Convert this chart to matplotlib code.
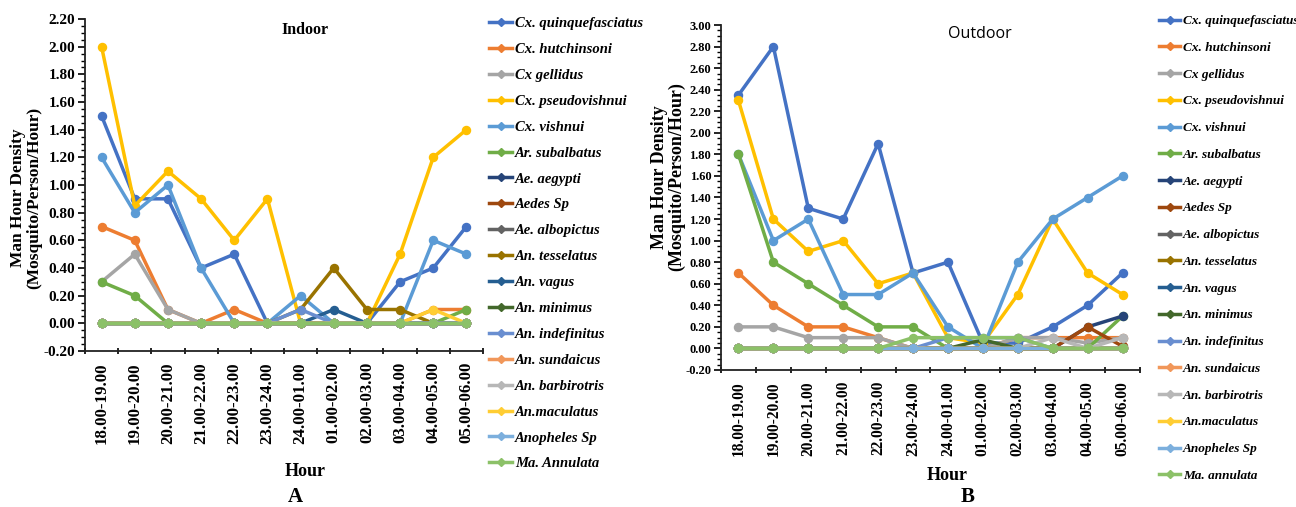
import matplotlib
matplotlib.use("Agg")
import matplotlib.pyplot as plt
from matplotlib.lines import Line2D
from matplotlib.ticker import MultipleLocator, FixedLocator
import numpy as np

plt.rcParams['font.family'] = ['Liberation Serif', 'DejaVu Serif']
plt.rcParams['font.weight'] = 'bold'

hours = ["18.00-19.00", "19.00-20.00", "20.00-21.00", "21.00-22.00", "22.00-23.00",
         "23.00-24.00", "24.00-01.00", "01.00-02.00", "02.00-03.00", "03.00-04.00",
         "04.00-05.00", "05.00-06.00"]

species_in = ["Cx. quinquefasciatus", "Cx. hutchinsoni", "Cx gellidus", "Cx. pseudovishnui",
              "Cx. vishnui", "Ar. subalbatus", "Ae. aegypti", "Aedes Sp", "Ae. albopictus",
              "An. tesselatus", "An. vagus", "An. minimus", "An. indefinitus", "An. sundaicus",
              "An. barbirotris", "An.maculatus", "Anopheles Sp", "Ma. Annulata"]
species_out = species_in[:-1] + ["Ma. annulata"]

colors = ["#4472C4", "#ED7D31", "#A5A5A5", "#FFC000", "#5B9BD5", "#70AD47",
          "#264478", "#9E480E", "#636363", "#997300", "#255E91", "#43682B",
          "#698ED0", "#F1975A", "#B7B7B7", "#FFCD33", "#7CAFDD", "#8CC168"]

z = [0] * 12
indoor = [
    [1.5, 0.9, 0.9, 0.4, 0.5, 0, 0, 0, 0, 0.3, 0.4, 0.7],
    [0.7, 0.6, 0.1, 0, 0.1, 0, 0, 0, 0, 0, 0.1, 0.1],
    [0.3, 0.5, 0.1, 0, 0, 0, 0, 0, 0, 0, 0, 0],
    [2.0, 0.85, 1.1, 0.9, 0.6, 0.9, 0, 0, 0, 0.5, 1.2, 1.4],
    [1.2, 0.8, 1.0, 0.4, 0, 0, 0.2, 0, 0, 0, 0.6, 0.5],
    [0.3, 0.2, 0, 0, 0, 0, 0, 0, 0, 0, 0, 0.1],
    z, z, z,
    [0, 0, 0, 0, 0, 0, 0.1, 0.4, 0.1, 0.1, 0, 0],
    [0, 0, 0, 0, 0, 0, 0, 0.1, 0, 0, 0, 0],
    z,
    [0, 0, 0, 0, 0, 0, 0.1, 0, 0, 0, 0, 0],
    z, z,
    [0, 0, 0, 0, 0, 0, 0, 0, 0, 0, 0.1, 0],
    z, z,
]
outdoor = [
    [2.35, 2.8, 1.3, 1.2, 1.9, 0.7, 0.8, 0.05, 0.05, 0.2, 0.4, 0.7],
    [0.7, 0.4, 0.2, 0.2, 0.1, 0, 0, 0, 0.1, 0.1, 0.1, 0.1],
    [0.2, 0.2, 0.1, 0.1, 0.1, 0, 0, 0, 0.1, 0.1, 0.05, 0.1],
    [2.3, 1.2, 0.9, 1.0, 0.6, 0.7, 0.1, 0.05, 0.5, 1.2, 0.7, 0.5],
    [1.8, 1.0, 1.2, 0.5, 0.5, 0.7, 0.2, 0, 0.8, 1.2, 1.4, 1.6],
    [1.8, 0.8, 0.6, 0.4, 0.2, 0.2, 0, 0, 0, 0, 0, 0.3],
    [0, 0, 0, 0, 0, 0, 0, 0, 0, 0, 0.2, 0.3],
    [0, 0, 0, 0, 0, 0, 0, 0, 0, 0, 0.2, 0.02],
    z, z, z,
    [0, 0, 0, 0, 0, 0, 0, 0.08, 0, 0, 0, 0],
    [0, 0, 0, 0, 0, 0, 0.1, 0.1, 0.1, 0, 0, 0],
    z,
    [0, 0, 0, 0, 0, 0, 0, 0, 0, 0.1, 0, 0.1],
    z, z,
    [0, 0, 0, 0, 0, 0.1, 0.1, 0.1, 0.1, 0, 0, 0],
]

W, H = 1296, 507
fig = plt.figure(figsize=(W / 100, H / 100), dpi=100)


def fx(px):
    return px / W


def fy(py):
    return 1 - py / H


def panel(rect, data, labels, ymax, ytick_size, xtick_size, title, title_pos, title_font,
          leg_x, leg_top, leg_size, leg_space):
    ax = fig.add_axes(rect)
    x = np.arange(len(hours))
    handles = []
    for vals, lab, col in zip(data, labels, colors):
        ax.plot(x, vals, color=col, lw=2.5, marker='o', ms=5.8, solid_joinstyle='round')
        handles.append(Line2D([], [], color=col, lw=2.5, marker='D', ms=4.5))
    ax.set_xlim(-0.5, 11.5)
    ax.set_ylim(-0.2, ymax)
    yt = np.arange(-0.2, ymax + 0.01, 0.2)
    ax.set_yticks(yt)
    ax.set_yticklabels(["%.2f" % v for v in yt], fontsize=ytick_size)
    ax.yaxis.set_minor_locator(MultipleLocator(0.05))
    ax.set_xticks(x)
    ax.set_xticklabels(hours, rotation=90, fontsize=xtick_size)
    ax.xaxis.set_minor_locator(FixedLocator(np.arange(-0.5, 12, 1)))
    ax.tick_params(axis='x', which='major', length=0, pad=8)
    ax.tick_params(axis='x', which='minor', length=5, width=1.2, direction='inout')
    ax.tick_params(axis='y', which='major', length=5, width=1.2, direction='out', pad=2)
    ax.tick_params(axis='y', which='minor', length=3, width=1.0, direction='out')
    for s in ['top', 'right']:
        ax.spines[s].set_visible(False)
    for s in ['left', 'bottom']:
        ax.spines[s].set_linewidth(1.3)
        ax.spines[s].set_color('#222222')
    ax.text(title_pos[0], title_pos[1], title, transform=ax.transAxes, ha='center', va='center',
            **title_font)
    fig.legend(handles, labels, loc='upper left', bbox_to_anchor=(leg_x, leg_top),
               frameon=False, prop={'style': 'italic', 'weight': 'bold', 'size': leg_size},
               handlelength=1.6, handletextpad=0.2, labelspacing=leg_space, borderaxespad=0,
               borderpad=0)
    return ax


panel([fx(85), fy(351), fx(483 - 85), (351 - 19) / H], indoor, species_in, 2.2, 11, 12.2,
      "Indoor", (0.553, 0.967), dict(fontsize=11.5, fontweight='bold'),
      fx(489), fy(17), 10.5, 0.87)
panel([fx(721), fy(370), fx(1140 - 721), (370 - 25) / H], outdoor, species_out, 3.0, 9, 11.2,
      "Outdoor", (0.618, 0.975), dict(fontsize=11.5, fontweight='normal', family='Open Sans'),
      fx(1159), fy(15), 9.5, 1.1)

ylab = "Man Hour Density\n(Mosquito/Person/Hour)"
fig.text(fx(26), fy(198), ylab, rotation=90, ha='center', va='center', fontsize=12.5,
         linespacing=1.0)
fig.text(fx(668), fy(177), ylab, rotation=90, ha='center', va='center', fontsize=13,
         linespacing=1.0)
fig.text(fx(305), fy(472), "Hour", ha='center', va='center', fontsize=13)
fig.text(fx(947), fy(475), "Hour", ha='center', va='center', fontsize=13)
fig.text(fx(295), fy(497), "A", ha='center', va='center', fontsize=15)
fig.text(fx(968), fy(497), "B", ha='center', va='center', fontsize=15)

fig.savefig("out.png", dpi=100)
